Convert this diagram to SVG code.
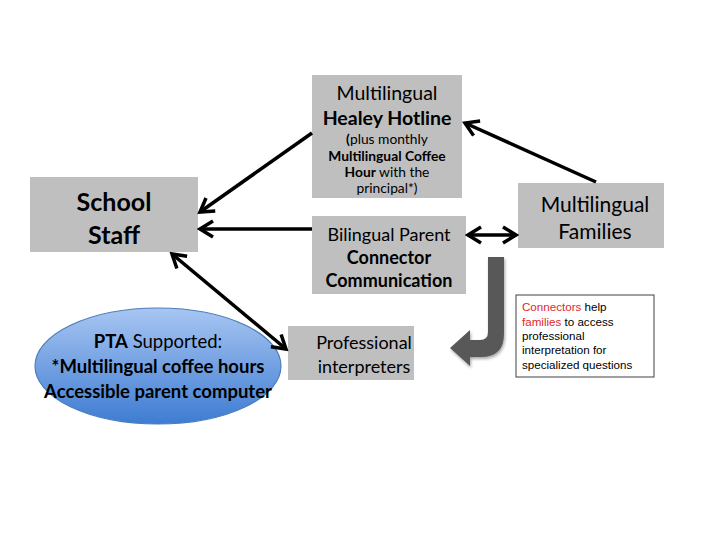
<svg xmlns="http://www.w3.org/2000/svg" width="720" height="540" viewBox="0 0 720 540">
<defs>
<style>
.box{fill:#bfbfbf;}
.t{font-family:Lato,"Open Sans","Liberation Sans",sans-serif;fill:#000;text-anchor:middle;}
.b{font-weight:bold;}
.ln{stroke:#000;stroke-width:3.5;fill:none;}
.note{font-family:"Liberation Sans",Arial,sans-serif;font-size:11.6px;fill:#000;}
.red{fill:#e3262b;}
</style>
<marker id="ah" viewBox="0 0 20 20" refX="17" refY="10" markerWidth="20" markerHeight="20" markerUnits="userSpaceOnUse" orient="auto-start-reverse">
<path d="M4,2 L17,10 L4,18" fill="none" stroke="#000" stroke-width="3.5"/>
</marker>
<linearGradient id="eg" x1="0" y1="0" x2="0" y2="1">
<stop offset="0" stop-color="#a8c6f2"/>
<stop offset="1" stop-color="#3e7cd2"/>
</linearGradient>
<filter id="sh" x="-20%" y="-20%" width="140%" height="140%">
<feDropShadow dx="1" dy="2" stdDeviation="1.5" flood-opacity="0.35"/>
</filter>
</defs>
<rect width="720" height="540" fill="#fff"/>

<g id="healey">
<rect class="box" x="312" y="75" width="150" height="123"/>
<text class="t" x="387" y="100" font-size="19.5">Multilingual</text>
<text class="t b" x="387" y="125" font-size="19.5">Healey Hotline</text>
<text class="t" x="387" y="144" font-size="13.8"><tspan class="b">(</tspan>plus monthly</text>
<text class="t b" x="387" y="160.5" font-size="13.8">Multilingual Coffee</text>
<text class="t" x="387" y="177" font-size="13.8"><tspan class="b">Hour</tspan> with the</text>
<text class="t" x="387" y="193" font-size="13.8">principal*)</text>
</g>

<g id="school-staff">
<rect class="box" x="30" y="177" width="168" height="75"/>
<text class="t b" x="114" y="211" font-size="25">School</text>
<text class="t b" x="114" y="244" font-size="25">Staff</text>
</g>

<g id="bilingual">
<rect class="box" x="312" y="216" width="154" height="78"/>
<text class="t" x="389" y="241" font-size="18">Bilingual Parent</text>
<text class="t b" x="389" y="264" font-size="18">Connector</text>
<text class="t b" x="389" y="287" font-size="18">Communication</text>
</g>

<g id="families">
<rect class="box" x="518" y="183" width="146" height="65"/>
<text class="t" x="595" y="212" font-size="21">Multilingual</text>
<text class="t" x="595" y="239" font-size="21">Families</text>
</g>

<g id="professional">
<rect class="box" x="288" y="326" width="126" height="54"/>
<text class="t" x="364" y="349" font-size="18">Professional</text>
<text class="t" x="364" y="373" font-size="18">interpreters</text>
</g>

<g id="pta">
<ellipse cx="158" cy="366" rx="123" ry="58" fill="url(#eg)" stroke="#4a7ebb" stroke-width="1.2"/>
<text class="t" x="158" y="348" font-size="18.5"><tspan class="b">PTA</tspan> Supported:</text>
<text class="t b" x="158" y="373" font-size="18.5">*Multilingual coffee hours</text>
<text class="t b" x="158" y="398" font-size="18.5">Accessible parent computer</text>
</g>

<g id="note">
<rect x="516" y="295" width="138" height="82" fill="#fff" stroke="#404040" stroke-width="1"/>
<text class="note" x="522" y="311"><tspan class="red">Connectors</tspan> help</text>
<text class="note" x="522" y="325.5"><tspan class="red">families</tspan> to access</text>
<text class="note" x="522" y="340">professional</text>
<text class="note" x="522" y="354">interpretation for</text>
<text class="note" x="522" y="368.5">specialized questions</text>
</g>

<g id="connectors">
<line class="ln" x1="312" y1="133" x2="200" y2="212" marker-end="url(#ah)"/>
<line class="ln" x1="312" y1="229" x2="200" y2="229" marker-end="url(#ah)"/>
<line class="ln" x1="172" y1="254" x2="286" y2="349" marker-start="url(#ah)" marker-end="url(#ah)"/>
<line class="ln" x1="596" y1="182" x2="465" y2="123" marker-end="url(#ah)"/>
<line class="ln" x1="468" y1="235" x2="516" y2="235" marker-start="url(#ah)" marker-end="url(#ah)"/>
<path d="M488,257 L504,257 L504,334 Q504,357 481,357 L470,357 L470,366 L450,348 L470,330 L470,340 L480,340 Q488,340 488,332 Z" fill="#595959" filter="url(#sh)"/>
</g>
</svg>
